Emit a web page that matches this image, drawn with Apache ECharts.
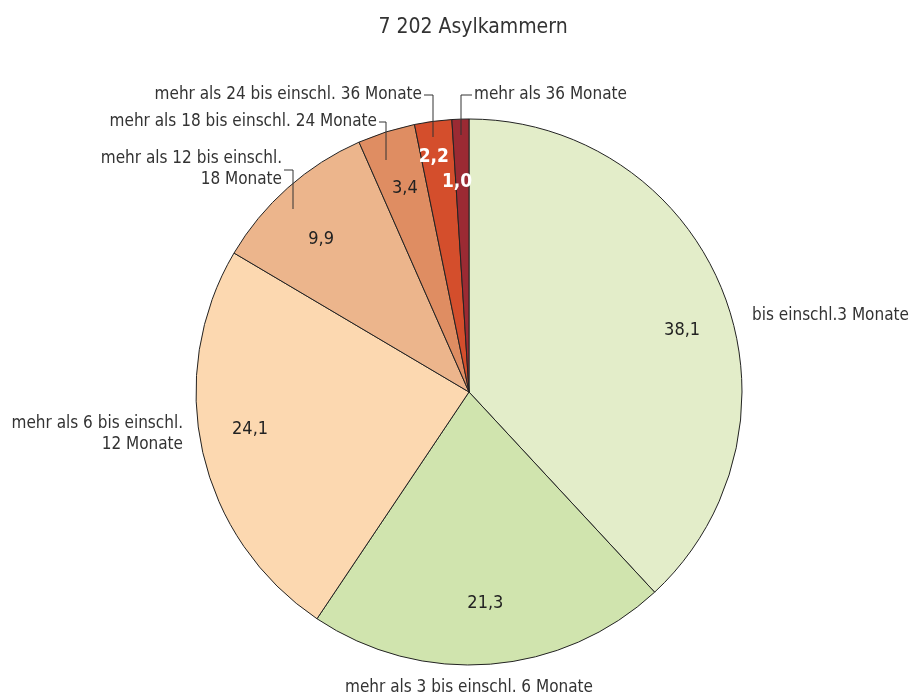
<!DOCTYPE html>
<html>
<head>
<meta charset="utf-8">
<script src="https://cdn.jsdelivr.net/npm/echarts@6/dist/echarts.min.js"></script>
<style>
  html, body { margin: 0; padding: 0; background: #fff; }
  #chart { width: 914px; height: 699px; }
</style>
</head>
<body>
<div id="chart"></div>
<script>
// data
const categories = [
  'bis einschl.3 Monate',
  'mehr als 3 bis einschl. 6 Monate',
  'mehr als 6 bis einschl.\n12 Monate',
  'mehr als 12 bis einschl.\n18 Monate',
  'mehr als 18 bis einschl. 24 Monate',
  'mehr als 24 bis einschl. 36 Monate',
  'mehr als 36 Monate'
]
const values = [38.1, 21.3, 24.1, 9.9, 3.4, 2.2, 1.0]
const colors = ['#e3edc9', '#d0e4ae', '#fcd8b0', '#ecb58c', '#df8d62', '#d44e2c', '#9b2a33']

const FONT = "'Liberation Sans Narrow', 'DejaVu Sans Condensed', sans-serif"
const CX = 469, CY = 392, R = 273

// where the outside names sit (x, y, align) and their bracket leaders
const namePos = [
  { x: 752, y: 316, align: 'left' },
  { x: 469, y: 688, align: 'center' },
  { x: 183, y: 434, align: 'right' },
  { x: 282, y: 169, align: 'right', line: [[284, 170], [293, 170], [293, 209]] },
  { x: 377, y: 122, align: 'right', line: [[379, 122], [386, 122], [386, 160]] },
  { x: 422, y: 95, align: 'right', line: [[424, 95], [433, 95], [433, 137]] },
  { x: 474, y: 95, align: 'left', line: [[472, 95], [461, 95], [461, 135]] }
]
// small nudges of the value labels from the ring middle
const valueNudge = [[7, 19], [-1, -9], [-3, -12], [-1, 13], [3, 7], [-6, -15], [-5, 11]]

const chart = echarts.init(document.getElementById('chart'))

const sliceData = values.map((v, i) => ({
  name: categories[i],
  value: v,
  itemStyle: { color: colors[i] },
  label: { align: namePos[i].align }
}))

const numberData = values.map((v, i) => ({
  name: categories[i],
  value: v,
  label: i >= 5 ? { color: '#fff', fontWeight: 'bold', fontSize: 19 } : {}
}))

const leaders = namePos.filter(p => p.line).map(p => ({
  type: 'polyline',
  silent: true,
  z: 100,
  shape: { points: p.line },
  style: { stroke: '#333', lineWidth: 1, fill: null }
}))

const option = {
  animation: false,
  title: {
    text: '7 202 Asylkammern',
    left: 468,
    top: 12,
    textAlign: 'center',
    textStyle: { fontFamily: FONT, fontSize: 21, fontWeight: 'normal', color: '#333' }
  },
  graphic: leaders,
  series: [
    {
      type: 'pie',
      center: [CX, CY],
      radius: [0, R],
      startAngle: 90,
      clockwise: true,
      silent: true,
      avoidLabelOverlap: false,
      data: sliceData,
      itemStyle: { borderColor: '#222', borderWidth: 1 },
      label: {
        show: true,
        position: 'outside',
        formatter: '{b}',
        overflow: 'none',
        fontFamily: FONT,
        fontSize: 17,
        lineHeight: 21,
        color: '#333'
      },
      labelLine: { show: false },
      labelLayout: function (p) {
        const np = namePos[p.dataIndex]
        return { x: np.x, y: np.y, align: np.align, verticalAlign: 'middle' }
      }
    },
    {
      // value labels, placed at mid ring of a transparent ring
      type: 'pie',
      center: [CX, CY],
      radius: [R * 0.6, R],
      startAngle: 90,
      clockwise: true,
      silent: true,
      avoidLabelOverlap: false,
      minShowLabelAngle: 0,
      data: numberData,
      itemStyle: { color: 'rgba(0,0,0,0)', borderWidth: 0 },
      label: {
        show: true,
        position: 'inside',
        formatter: p => p.value.toFixed(1).replace('.', ','),
        fontFamily: FONT,
        fontSize: 18,
        color: '#222'
      },
      labelLine: { show: false },
      labelLayout: function (p) {
        const n = valueNudge[p.dataIndex]
        return { dx: n[0], dy: n[1], hideOverlap: false }
      }
    }
  ]
}

chart.setOption(option)
</script>
</body>
</html>
